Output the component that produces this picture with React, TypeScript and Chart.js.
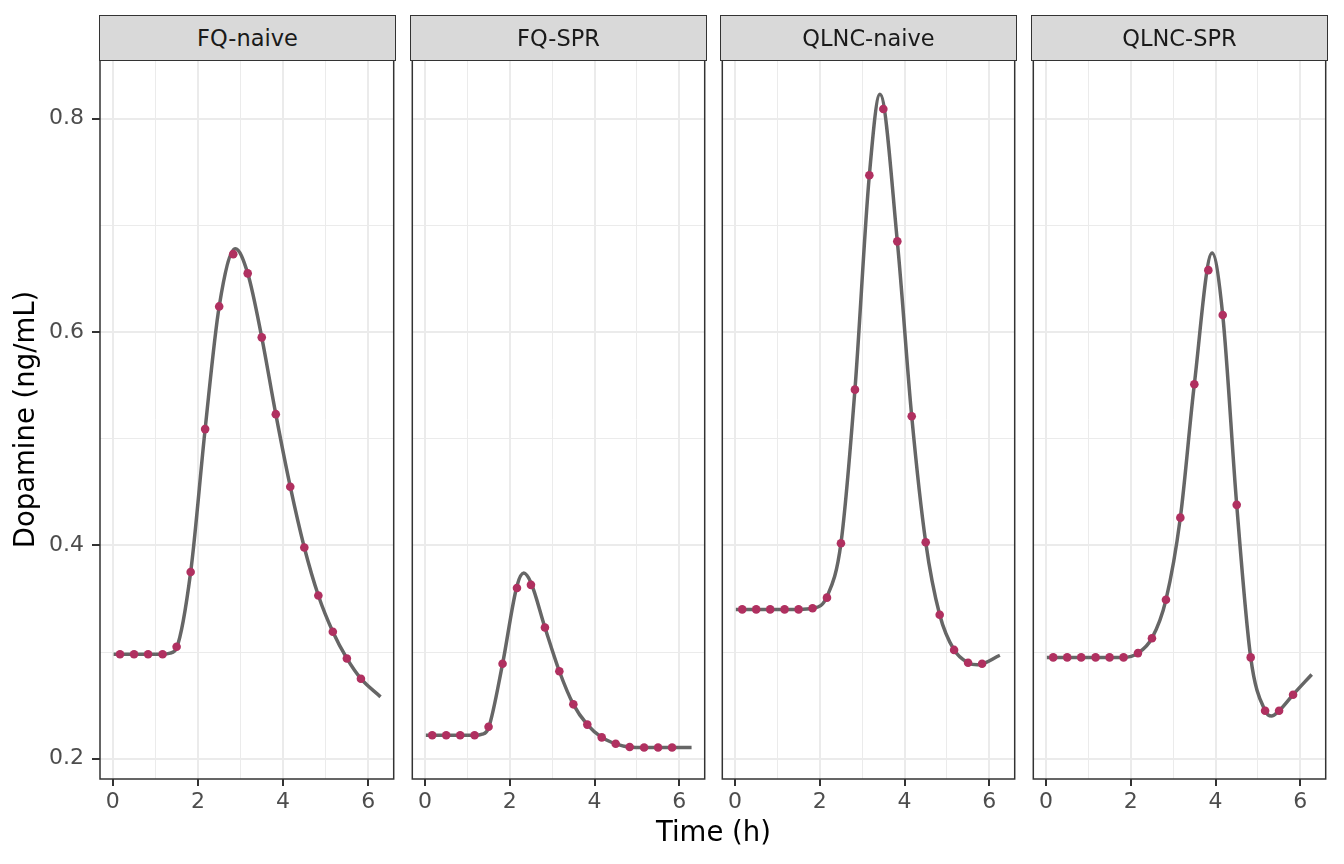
import { useEffect, useRef } from "react";
import { Chart, registerables } from "chart.js";

Chart.register(...registerables);

// sampling times of the observed points (h)
const obsTimes = [0.17, 0.5, 0.83, 1.17, 1.5, 1.83, 2.17, 2.5, 2.83, 3.17, 3.5, 3.83, 4.17, 4.5, 4.83, 5.17, 5.5, 5.83];

// observed dopamine (ng/mL)
const fqNaiveObs = [0.298, 0.298, 0.298, 0.298, 0.305, 0.375, 0.509, 0.624, 0.673, 0.655, 0.595, 0.523, 0.455, 0.398, 0.353, 0.319, 0.294, 0.275];
const fqSprObs = [0.222, 0.222, 0.222, 0.222, 0.230, 0.289, 0.360, 0.363, 0.323, 0.282, 0.251, 0.232, 0.220, 0.214, 0.211, 0.2105, 0.2105, 0.2105];
const qlncNaiveObs = [0.340, 0.340, 0.340, 0.340, 0.340, 0.341, 0.351, 0.402, 0.546, 0.747, 0.809, 0.685, 0.521, 0.403, 0.335, 0.302, 0.290, 0.289];
const qlncSprObs = [0.295, 0.295, 0.295, 0.295, 0.295, 0.295, 0.299, 0.313, 0.349, 0.426, 0.551, 0.658, 0.616, 0.438, 0.295, 0.245, 0.245, 0.260];

// fitted curve
const fqNaiveFitX = [0.02, 0.5, 1.17, 1.35, 1.5, 1.83, 2.17, 2.5, 2.88, 3.17, 3.5, 3.83, 4.17, 4.5, 4.83, 5.17, 5.5, 5.83, 6.29];
const fqNaiveFitY = [0.298, 0.298, 0.298, 0.299, 0.304, 0.375, 0.509, 0.624, 0.678, 0.655, 0.595, 0.523, 0.455, 0.398, 0.353, 0.319, 0.294, 0.275, 0.258];
const fqSprFitX = [0.02, 1.17, 1.35, 1.5, 1.83, 2.17, 2.33, 2.5, 2.83, 3.17, 3.5, 3.83, 4.17, 4.5, 4.83, 5.17, 6.29];
const fqSprFitY = [0.222, 0.222, 0.223, 0.229, 0.289, 0.362, 0.374, 0.365, 0.323, 0.282, 0.251, 0.232, 0.220, 0.214, 0.211, 0.2105, 0.2105];
const qlncNaiveFitX = [0.02, 1.5, 1.83, 2.17, 2.5, 2.83, 3.17, 3.42, 3.83, 4.17, 4.5, 4.83, 5.17, 5.5, 5.72, 6.25];
const qlncNaiveFitY = [0.340, 0.340, 0.341, 0.352, 0.402, 0.546, 0.747, 0.823, 0.685, 0.521, 0.403, 0.335, 0.302, 0.290, 0.288, 0.297];
const qlncSprFitX = [0.02, 1.5, 1.83, 2.17, 2.5, 2.83, 3.17, 3.5, 3.92, 4.17, 4.5, 4.83, 5.17, 5.32, 5.5, 5.83, 6.27];
const qlncSprFitY = [0.295, 0.295, 0.295, 0.299, 0.313, 0.349, 0.426, 0.551, 0.674, 0.616, 0.438, 0.295, 0.245, 0.240, 0.245, 0.260, 0.279];

const panelNames = ["FQ-naive", "FQ-SPR", "QLNC-naive", "QLNC-SPR"];
const xMajor = [0, 2, 4, 6];
const xMinor = [1, 3, 5];
const yMajor = [0.2, 0.4, 0.6, 0.8];
const yMinor = [0.3, 0.5, 0.7];

const FONT = "DejaVu Sans";
const PLOT_TOP = 60;
const PLOT_W = 295;
const PLOT_H = 719;
const PANEL_LEFTS = [100, 411, 721, 1032];
const Y_AXIS_W = 100;
const X_AXIS_H = 60;
const PAD = 3;
const PAD_TOP = 30;

const isMajor = (list: number[], v: number) => list.some((m) => Math.abs(m - v) < 1e-6);

const panelBorder = {
  id: "panelBorder",
  afterDraw(chart: Chart) {
    const { ctx, chartArea } = chart;
    ctx.save();
    ctx.strokeStyle = "#333333";
    ctx.lineWidth = 1.5;
    ctx.strokeRect(chartArea.left, chartArea.top, chartArea.right - chartArea.left, chartArea.bottom - chartArea.top);
    ctx.restore();
  },
};

function Panel({
  index,
  obs,
  fitX,
  fitY,
}: {
  index: number;
  obs: number[];
  fitX: number[];
  fitY: number[];
}) {
  const canvasRef = useRef<HTMLCanvasElement | null>(null);
  const first = index === 0;
  const leftExtra = first ? Y_AXIS_W : PAD;
  const width = leftExtra + PLOT_W + PAD;
  const height = PAD_TOP + PLOT_H + X_AXIS_H;

  useEffect(() => {
    if (!canvasRef.current) {
      return;
    }
    const chart = new Chart(canvasRef.current, {
      type: "scatter",
      data: {
        datasets: [
          {
            data: obsTimes.map((t, i) => ({ x: t, y: obs[i] })),
            pointRadius: 4.3,
            pointBackgroundColor: "#B03060",
            pointBorderWidth: 0,
            showLine: false,
          },
          {
            data: fitX.map((t, i) => ({ x: t, y: fitY[i] })),
            showLine: true,
            pointRadius: 0,
            borderColor: "#666666",
            borderWidth: 3.5,
            cubicInterpolationMode: "monotone",
            fill: false,
          },
        ],
      },
      options: {
        animation: false,
        responsive: false,
        layout: { padding: { left: first ? 0 : PAD, right: PAD, top: PAD_TOP, bottom: 0 } },
        plugins: {
          legend: { display: false },
          tooltip: { enabled: false },
        },
        scales: {
          x: {
            type: "linear",
            min: -0.3,
            max: 6.6,
            afterBuildTicks: (scale: any) => {
              scale.ticks = [...xMajor, ...xMinor].sort((a, b) => a - b).map((v) => ({ value: v }));
            },
            afterFit: (scale: any) => {
              scale.height = X_AXIS_H;
            },
            border: { display: false },
            grid: {
              color: "#EBEBEB",
              lineWidth: (ctx: any) => (isMajor(xMajor, ctx.tick?.value) ? 2 : 1),
              tickColor: (ctx: any) => (isMajor(xMajor, ctx.tick?.value) ? "#333333" : "rgba(0,0,0,0)"),
              tickLength: 7,
              tickWidth: 2,
            },
            ticks: {
              autoSkip: false,
              maxRotation: 0,
              padding: 3,
              color: "#4D4D4D",
              font: { family: FONT, size: 22 },
              callback: (v: any) => (isMajor(xMajor, Number(v)) ? String(v) : ""),
            },
          },
          y: {
            type: "linear",
            min: 0.181,
            max: 0.855,
            afterBuildTicks: (scale: any) => {
              scale.ticks = [...yMajor, ...yMinor].sort((a, b) => a - b).map((v) => ({ value: v }));
            },
            afterFit: (scale: any) => {
              scale.width = first ? Y_AXIS_W : 0;
            },
            border: { display: false },
            grid: {
              color: "#EBEBEB",
              lineWidth: (ctx: any) => (isMajor(yMajor, ctx.tick?.value) ? 2 : 1),
              tickColor: (ctx: any) => (isMajor(yMajor, ctx.tick?.value) ? "#333333" : "rgba(0,0,0,0)"),
              drawTicks: first,
              tickLength: 8,
              tickWidth: 2,
            },
            title: {
              display: first,
              text: "Dopamine (ng/mL)",
              color: "#000000",
              font: { family: FONT, size: 27.5, lineHeight: 1.2 },
              padding: { top: 10, bottom: 0 },
            },
            ticks: {
              display: first,
              padding: 8,
              color: "#4D4D4D",
              font: { family: FONT, size: 22 },
              callback: (v: any) => (isMajor(yMajor, Number(v)) ? Number(v).toFixed(1) : ""),
            },
          },
        },
      },
      plugins: [panelBorder],
    });

    return () => {
      chart.destroy();
    };
  }, [obs, fitX, fitY, first]);

  return (
    <canvas
      ref={canvasRef}
      width={width}
      height={height}
      style={{
        position: "absolute",
        left: PANEL_LEFTS[index] - leftExtra,
        top: PLOT_TOP - PAD_TOP,
        width,
        height,
      }}
    />
  );
}

export default function App() {
  const series = [
    { obs: fqNaiveObs, fitX: fqNaiveFitX, fitY: fqNaiveFitY },
    { obs: fqSprObs, fitX: fqSprFitX, fitY: fqSprFitY },
    { obs: qlncNaiveObs, fitX: qlncNaiveFitX, fitY: qlncNaiveFitY },
    { obs: qlncSprObs, fitX: qlncSprFitX, fitY: qlncSprFitY },
  ];

  return (
    <div
      style={{
        position: "fixed",
        left: 0,
        top: 0,
        width: 1344,
        height: 864,
        background: "#FFFFFF",
        fontFamily: FONT,
        overflow: "hidden",
      }}
    >
      {series.map((s, i) => (
        <Panel key={panelNames[i]} index={i} obs={s.obs} fitX={s.fitX} fitY={s.fitY} />
      ))}
      {panelNames.map((name, i) => (
        <div
          key={name}
          style={{
            position: "absolute",
            left: PANEL_LEFTS[i] - 0.75,
            top: 15,
            width: PLOT_W + 1.5,
            height: 45.75,
            boxSizing: "border-box",
            background: "#D9D9D9",
            border: "1.5px solid #333333",
            color: "#1A1A1A",
            fontSize: 22.5,
            display: "flex",
            alignItems: "center",
            justifyContent: "center",
          }}
        >
          {name}
        </div>
      ))}
      <div
        style={{
          position: "absolute",
          left: PANEL_LEFTS[0],
          top: 818.4,
          width: PANEL_LEFTS[3] + PLOT_W - PANEL_LEFTS[0],
          textAlign: "center",
          fontSize: 27.5,
          lineHeight: "27.5px",
          color: "#000000",
        }}
      >
        Time (h)
      </div>
    </div>
  );
}
